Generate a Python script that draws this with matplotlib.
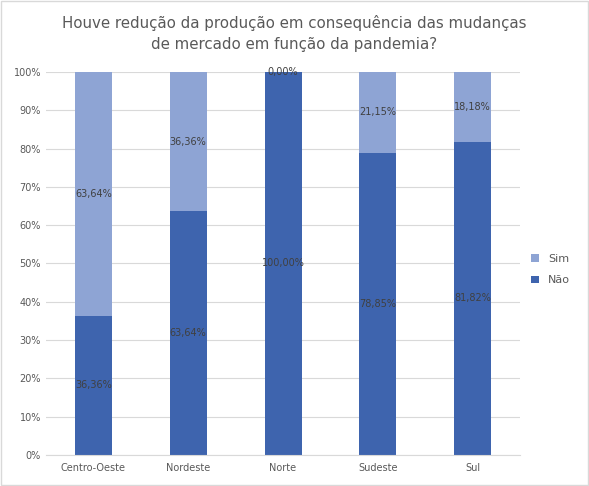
import numpy as np
from matplotlib import pyplot as plt
from matplotlib.ticker import PercentFormatter

regioes = ['Centro-Oeste', 'Nordeste', 'Norte', 'Sudeste', 'Sul']
nao = [36.36, 63.64, 100.00, 78.85, 81.82]
sim = [63.64, 36.36, 0.00, 21.15, 18.18]

cor_nao = '#3E64AE'
cor_sim = '#8EA4D4'

fig = plt.figure(figsize=(5.89, 4.86), dpi=100)
ax = fig.add_axes([0.078, 0.064, 0.805, 0.788])

x = np.arange(len(regioes))
b1 = ax.bar(x, nao, width=0.39, color=cor_nao, label='Não', zorder=2)
b2 = ax.bar(x, sim, width=0.39, bottom=nao, color=cor_sim, label='Sim', zorder=2)

def fmt(v):
    return ('%.2f' % v).replace('.', ',') + '%'

for i in range(len(regioes)):
    ax.text(x[i], nao[i] / 2, fmt(nao[i]), ha='center', va='center', fontsize=7, color='#404040')
    ax.text(x[i], nao[i] + sim[i] / 2, fmt(sim[i]), ha='center', va='center', fontsize=7, color='#404040')

ax.set_ylim(0, 100)
ax.set_xlim(-0.5, len(regioes) - 0.5)
ax.set_yticks(np.arange(0, 101, 10))
ax.yaxis.set_major_formatter(PercentFormatter(decimals=0))
ax.set_xticks(x)
ax.set_xticklabels(regioes)
ax.tick_params(length=0, labelsize=7, colors='#595959')
ax.tick_params(axis='x', pad=6)
ax.grid(axis='y', color='#D9D9D9', linewidth=0.8, zorder=0)
for s in ['top', 'right', 'left']:
    ax.spines[s].set_visible(False)
ax.spines['bottom'].set_color('#D9D9D9')

h, l = ax.get_legend_handles_labels()
fig.legend(h[::-1], l[::-1], loc='center left', bbox_to_anchor=(0.885, 0.445), frameon=False,
           fontsize=8, handlelength=0.7, handleheight=0.7, labelcolor='#595959', labelspacing=1.0)

fig.text(0.5, 0.931, 'Houve redução da produção em consequência das mudanças\nde mercado em função da pandemia?',
         ha='center', va='center', fontsize=10.8, color='#595959', linespacing=1.5)

fig.patches.append(plt.Rectangle((0.002, 0.002), 0.996, 0.996, transform=fig.transFigure,
                                 fill=False, edgecolor='#D9D9D9', linewidth=1))

plt.savefig('out.png', dpi=100)
